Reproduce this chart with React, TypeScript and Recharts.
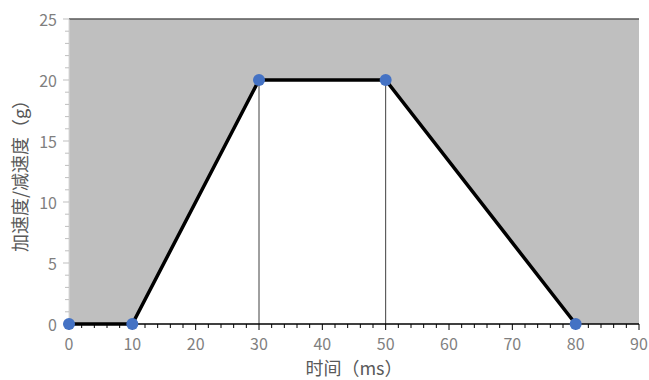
import { ComposedChart, Area, Line, Scatter, XAxis, YAxis, CartesianGrid, ReferenceLine, Label } from 'recharts'

const timeMs = [0, 10, 30, 50, 80]
const accel = [0, 0, 20, 20, 0]
// every 2 ms on x, every 1 g on y; labelled every 10 / 5
const xTicks = [0, 2, 4, 6, 8, 10, 12, 14, 16, 18, 20, 22, 24, 26, 28, 30, 32, 34, 36, 38, 40, 42, 44, 46, 48, 50, 52, 54, 56, 58, 60, 62, 64, 66, 68, 70, 72, 74, 76, 78, 80, 82, 84, 86, 88, 90]
const xMajorStep = 10
const yTicks = [0, 1, 2, 3, 4, 5, 6, 7, 8, 9, 10, 11, 12, 13, 14, 15, 16, 17, 18, 19, 20, 21, 22, 23, 24, 25]
const yMajorStep = 5

const data = timeMs.map((t, i) => ({ t, g: accel[i] }))
const plateau = data.filter(d => d.g === 20)

const font = '"Noto Sans CJK SC", "Noto Sans", sans-serif'

const XTick = ({ x, y, payload }: any) => {
  const major = payload.value % xMajorStep === 0
  const top = y - 8
  return (
    <g>
      <line x1={x} x2={x} y1={top} y2={top + (major ? 6 : 4)} stroke="#000" strokeWidth={1} />
      {major && (
        <text x={x} y={y + 11} textAnchor="middle" dominantBaseline="central" fill="#7f7f7f" fontSize={16} fontFamily={font}>
          {payload.value}
        </text>
      )}
    </g>
  )
}

const YTick = ({ x, y, payload }: any) => {
  const major = payload.value % yMajorStep === 0
  const right = x + 8
  return (
    <g>
      <line x1={right} x2={right - (major ? 6 : 4)} y1={y} y2={y} stroke="#bfbfbf" strokeWidth={1} />
      {major && (
        <text x={x - 4} y={y} textAnchor="end" dominantBaseline="central" fill="#7f7f7f" fontSize={16} fontFamily={font}>
          {payload.value}
        </text>
      )}
    </g>
  )
}

const Dot = ({ cx, cy }: any) => <circle cx={cx} cy={cy} r={6} fill="#4472c4" />

export default function App() {
  return (
    <div style={{ position: 'absolute', left: 0, top: 0, background: '#fff' }}>
      <ComposedChart width={649} height={380} data={data} margin={{ top: 19, right: 10, bottom: 0, left: 0 }}>
        <CartesianGrid horizontal={false} vertical={false} fill="#bfbfbf" fillOpacity={1} />
        <XAxis
          dataKey="t" type="number" domain={[0, 90]} ticks={xTicks} interval={0}
          axisLine={{ stroke: '#000', strokeWidth: 1.5 }} tickLine={false} tickSize={6} tickMargin={2}
          tick={<XTick />} height={56}
        >
          <Label value="时间（ms）" position="insideBottom" offset={5} style={{ fill: '#595959', fontSize: 18, fontFamily: font }} />
        </XAxis>
        <YAxis
          type="number" domain={[0, 25]} ticks={yTicks} interval={0}
          axisLine={{ stroke: '#d9d9d9' }} tickLine={false} tickSize={6} tickMargin={2}
          tick={<YTick />} width={69}
        >
          <Label
            content={({ viewBox }: any) => (
              <text
                x={19} y={viewBox.y + viewBox.height / 2} transform={`rotate(-90 19 ${viewBox.y + viewBox.height / 2})`}
                textAnchor="middle" dominantBaseline="central" fill="#595959" fontSize={18} fontFamily={font}
              >
                加速度/减速度（g）
              </text>
            )}
          />
        </YAxis>
        <ReferenceLine y={25} stroke="#595959" strokeWidth={1.5} />
        <Area dataKey="g" type="linear" fill="#ffffff" fillOpacity={1} stroke="none" isAnimationActive={false} />
        {plateau.map(d => (
          <ReferenceLine key={d.t} segment={[{ x: d.t, y: 0 }, { x: d.t, y: d.g }]} stroke="#404040" strokeWidth={1} />
        ))}
        <Line
          dataKey="g" type="linear" stroke="#000" strokeWidth={3.5}
          dot={false} activeDot={false} isAnimationActive={false}
        />
        <Scatter dataKey="g" shape={<Dot />} zIndex={2000} isAnimationActive={false} />
      </ComposedChart>
    </div>
  )
}
